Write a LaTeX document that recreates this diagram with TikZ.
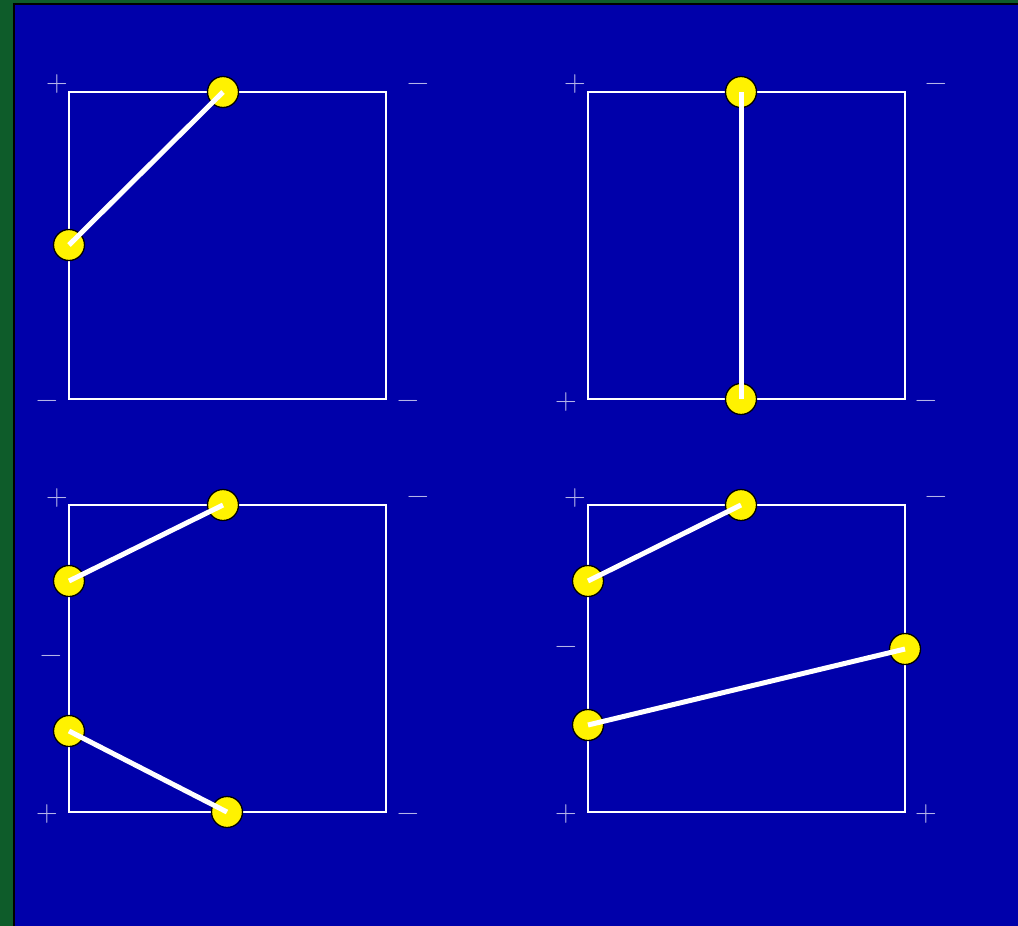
\documentclass[tikz,border=0pt]{standalone}
\begin{document}
\begin{tikzpicture}[x=1pt,y=-1pt,
  panelbox/.style={draw=white,line width=1.8pt},
  pin/.style={circle,draw=black,fill=yellow,line width=1.3pt,minimum size=31pt,inner sep=0pt},
  wire/.style={draw=white,line width=5pt,line cap=butt},
  sign/.style={text=signcol,inner sep=0pt,font=\fontsize{30}{36}\selectfont},
  minus/.style={sign,yshift=-3pt}]
\definecolor{bgblue}{RGB}{0,0,170}
\definecolor{bggreen}{RGB}{14,92,42}
\definecolor{signcol}{RGB}{180,180,232}
\useasboundingbox (0,0) rectangle (1018,926);
\fill[bggreen] (0,0) rectangle (1018,926);
\fill[black] (12.5,2.5) rectangle (1018,926);
\fill[bgblue] (14.5,4.5) rectangle (1018,926);
% boxes
\draw[panelbox] (69,92) rectangle (386,399);
\draw[panelbox] (588,92) rectangle (905,399);
\draw[panelbox] (69,505) rectangle (386,812);
\draw[panelbox] (588,505) rectangle (905,812);
% signs panel 1
\node[sign] (s1a) at (57,84) {+};
\node[minus] (s1b) at (418,84) {\char"2212};
\node[minus] (s1c) at (47,401) {\char"2212};
\node[minus] (s1d) at (408,401) {\char"2212};
% signs panel 2
\node[sign] (s2a) at (575,84) {+};
\node[minus] (s2b) at (936,84) {\char"2212};
\node[sign] (s2c) at (566,402) {+};
\node[minus] (s2d) at (926,401) {\char"2212};
% signs panel 3
\node[sign] (s3a) at (57,498) {+};
\node[minus] (s3b) at (418,497) {\char"2212};
\node[minus] (s3c) at (51,656) {\char"2212};
\node[sign] (s3d) at (47,814) {+};
\node[minus] (s3e) at (408,814) {\char"2212};
% signs panel 4
\node[sign] (s4a) at (575,498) {+};
\node[minus] (s4b) at (936,497) {\char"2212};
\node[minus] (s4c) at (566,647) {\char"2212};
\node[sign] (s4d) at (566,814) {+};
\node[sign] (s4e) at (926,814) {+};
% pins
\node[pin] (p1a) at (223,92) {};
\node[pin] (p1b) at (69,245) {};
\node[pin] (p2a) at (741,92) {};
\node[pin] (p2b) at (741,399) {};
\node[pin] (p3a) at (223,505) {};
\node[pin] (p3b) at (69,581) {};
\node[pin] (p3c) at (69,731) {};
\node[pin] (p3d) at (227,812) {};
\node[pin] (p4a) at (741,505) {};
\node[pin] (p4b) at (588,581) {};
\node[pin] (p4c) at (905,649) {};
\node[pin] (p4d) at (588,725) {};
% wires
\draw[wire] (p1b.center) -- (p1a.center);
\draw[wire] (p2a.center) -- (p2b.center);
\draw[wire] (p3b.center) -- (p3a.center);
\draw[wire] (p3c.center) -- (p3d.center);
\draw[wire] (p4b.center) -- (p4a.center);
\draw[wire] (p4d.center) -- (p4c.center);
\end{tikzpicture}
\end{document}
